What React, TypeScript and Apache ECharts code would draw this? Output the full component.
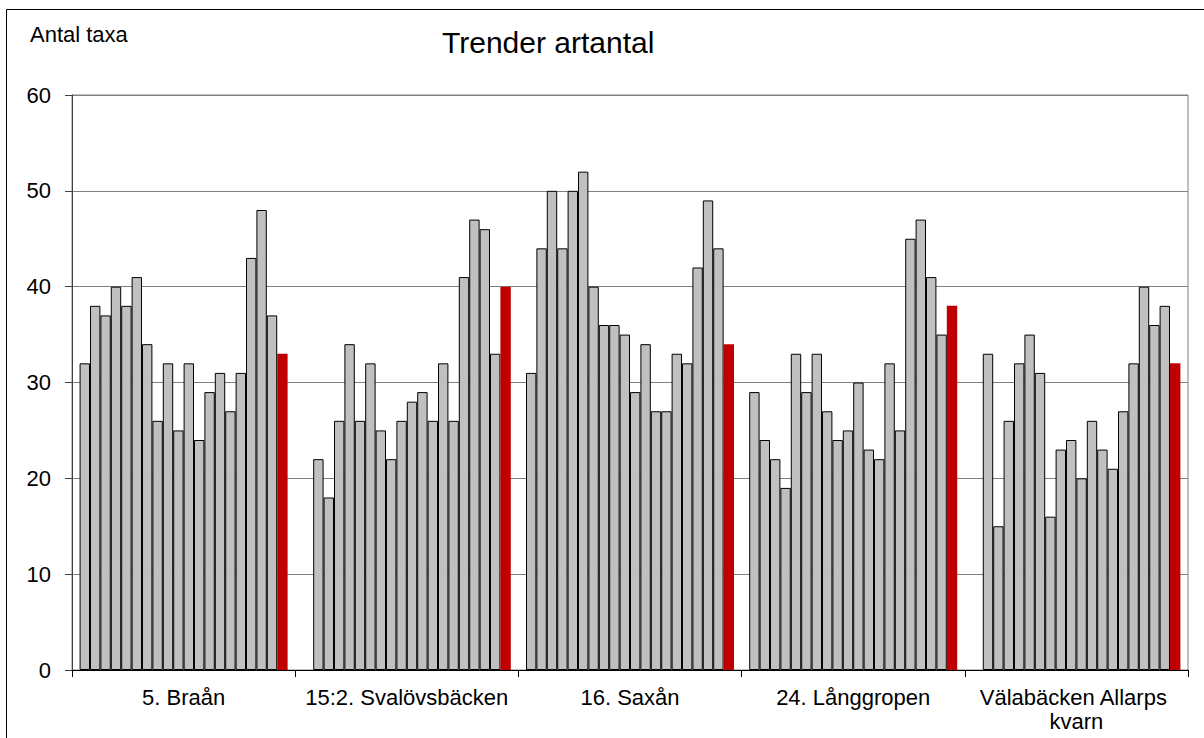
import React, { useEffect, useRef } from "react";
import * as echarts from "echarts";

const sites = [
  "5. Braån",
  "15:2. Svalövsbäcken",
  "16. Saxån",
  "24. Långgropen",
  "Välabäcken Allarps kvarn",
];

// 20 yearly samples per site (last one = latest year, red); null = no sample
const braan = [32, 38, 37, 40, 38, 41, 34, 26, 32, 25, 32, 24, 29, 31, 27, 31, 43, 48, 37, 33];
const svalovsbacken = [null, 22, 18, 26, 34, 26, 32, 25, 22, 26, 28, 29, 26, 32, 26, 41, 47, 46, 33, 40];
const saxan = [31, 44, 50, 44, 50, 52, 40, 36, 36, 35, 29, 34, 27, 27, 33, 32, 42, 49, 44, 34];
const langgropen = [29, 24, 22, 19, 33, 29, 33, 27, 24, 25, 30, 23, 22, 32, 25, 45, 47, 41, 35, 38];
const valabacken = [null, 33, 15, 26, 32, 35, 31, 16, 23, 24, 20, 26, 23, 21, 27, 32, 40, 36, 38, 32];

const siteValues = [braan, svalovsbacken, saxan, langgropen, valabacken];

const yTicks = { min: 0, max: 60, interval: 10 };

const FONT = "'Liberation Sans', Arial, sans-serif";

export default function App() {
  const ref = useRef<HTMLDivElement>(null);

  useEffect(() => {
    if (!ref.current) return;
    const chart = echarts.init(ref.current, undefined, { renderer: "svg" });
    const nSeries = braan.length;
    const series: any[] = [];
    for (let i = 0; i < nSeries; i++) {
      const isLast = i === nSeries - 1;
      series.push({
        type: "bar",
        name: "s" + i,
        data: siteValues.map((arr) => arr[i]),
        barGap: "0%",
        barCategoryGap: "6.8%",
        itemStyle: isLast
          ? { color: "#C00000", borderWidth: 0 }
          : { color: "#C0C0C0", borderColor: "#000000", borderWidth: 1 },
        emphasis: { disabled: true },
      });
    }
    chart.setOption({
      animation: false,
      textStyle: { fontFamily: FONT },
      grid: {
        left: 72,
        right: 16,
        top: 95,
        bottom: 68,
        show: true,
        borderColor: "#808080",
        borderWidth: 1,
      },
      graphic: [
        {
          type: "rect",
          shape: { x: 6.5, y: 9.5, width: 1400, height: 900 },
          style: { fill: "none", stroke: "#000", lineWidth: 1 },
          silent: true,
          z: -10,
        },
        {
          type: "text",
          left: 30,
          top: 23,
          style: { text: "Antal taxa", font: `22px ${FONT}`, fill: "#000" },
        },
        {
          type: "text",
          left: 442,
          top: 27,
          style: { text: "Trender artantal", font: `30px ${FONT}`, fill: "#000" },
        },
      ],
      xAxis: {
        type: "category",
        data: sites,
        axisLine: { lineStyle: { color: "#000", width: 1 } },
        axisTick: { show: true, length: 7, lineStyle: { color: "#000" } },
        axisLabel: {
          color: "#000",
          fontSize: 22,
          fontFamily: FONT,
          margin: 15,
          lineHeight: 24,
          width: 230,
          overflow: "break",
          interval: 0,
        },
      },
      yAxis: {
        type: "value",
        min: yTicks.min,
        max: yTicks.max,
        interval: yTicks.interval,
        axisLine: { show: true, lineStyle: { color: "#404040", width: 1 } },
        axisTick: { show: true, length: 7, lineStyle: { color: "#404040" } },
        splitLine: { lineStyle: { color: "#808080", width: 1 } },
        axisLabel: { color: "#000", fontSize: 22, fontFamily: FONT, margin: 21 },
      },
      series,
    });
    return () => chart.dispose();
  }, []);

  return (
    <div
      ref={ref}
      style={{ position: "fixed", left: 0, top: 0, width: 1204, height: 738, background: "#fff" }}
    />
  );
}
